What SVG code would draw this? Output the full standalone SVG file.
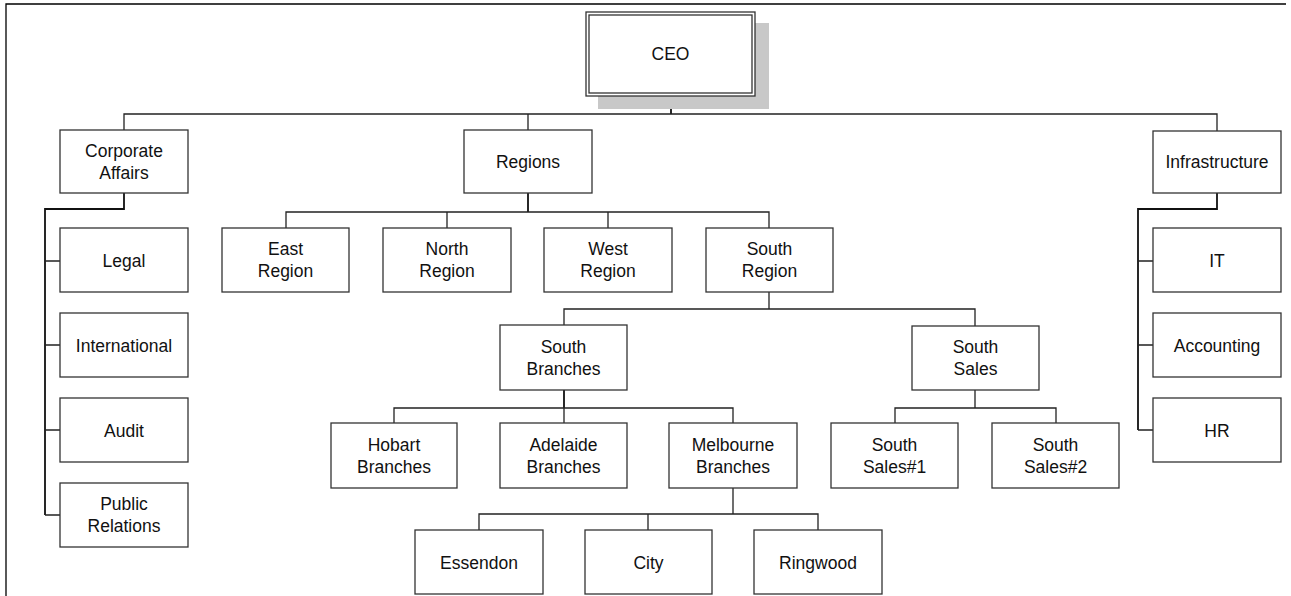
<svg xmlns="http://www.w3.org/2000/svg" width="1291" height="596" viewBox="0 0 1291 596">
<style>
.box{fill:#fff;stroke:#333;stroke-width:1.3}
.t{font-family:"Liberation Sans",Arial,sans-serif;font-size:17.5px;fill:#111;text-anchor:middle}
.c{fill:none;stroke:#222;stroke-width:1.3}
.ct{fill:none;stroke:#111;stroke-width:1.8}
.frame{fill:none;stroke:#000;stroke-width:1.3}
</style>
<rect width="1291" height="596" fill="#fff"/>
<path class="frame" d="M6,596 V4 H1286"/>
<g id="connectors">
<path class="ct" d="M671,96 V114"/>
<path class="c" d="M124,130 V114 H1217 V131 M528,114 V130"/>
<path class="ct" d="M124,193 V209 H45 V515"/>
<path class="c" d="M45,261 H60 M45,345 H60 M45,430 H60 M45,515 H60"/>
<path class="ct" d="M1217,193 V209 H1138 V430"/>
<path class="c" d="M1138,261 H1153 M1138,345 H1153 M1138,430 H1153"/>
<path class="ct" d="M528,193 V212"/>
<path class="c" d="M286,228 V212 H769 V228 M447,212 V228 M608,212 V228"/>
<path class="c" d="M769,292 V309 M564,325 V309 H975 V326"/>
<path class="ct" d="M564,390 V408"/>
<path class="c" d="M394,423 V408 H733 V423 M564,408 V423"/>
<path class="c" d="M975,390 V408 M895,423 V408 H1056 V423"/>
<path class="c" d="M733,488 V514 M479,530 V514 H818 V530 M648,514 V530"/>
</g>
<g id="ceo">
<rect x="598" y="23" width="171" height="86" fill="#c8c8c8"/>
<rect class="box" x="586" y="12" width="169" height="84" stroke-width="1.5"/>
<rect x="589" y="15" width="163" height="78" fill="none" stroke="#333" stroke-width="1.3"/>
<text class="t" x="670.5" y="60">CEO</text>
</g>
<g id="corporate-affairs"><rect class="box" x="60" y="130" width="128" height="63"/><text class="t" x="124" y="157">Corporate</text><text class="t" x="124" y="178.5">Affairs</text></g>
<g id="regions"><rect class="box" x="464" y="130" width="128" height="63"/><text class="t" x="528" y="167.5">Regions</text></g>
<g id="infrastructure"><rect class="box" x="1153" y="131" width="128" height="62"/><text class="t" x="1217" y="168">Infrastructure</text></g>
<g id="legal"><rect class="box" x="60" y="228" width="128" height="64"/><text class="t" x="124" y="266.5">Legal</text></g>
<g id="international"><rect class="box" x="60" y="313" width="128" height="64"/><text class="t" x="124" y="351.5">International</text></g>
<g id="audit"><rect class="box" x="60" y="398" width="128" height="64"/><text class="t" x="124" y="436.5">Audit</text></g>
<g id="public-relations"><rect class="box" x="60" y="483" width="128" height="64"/><text class="t" x="124" y="510">Public</text><text class="t" x="124" y="531.5">Relations</text></g>
<g id="it"><rect class="box" x="1153" y="228" width="128" height="64"/><text class="t" x="1217" y="266.5">IT</text></g>
<g id="accounting"><rect class="box" x="1153" y="313" width="128" height="64"/><text class="t" x="1217" y="351.5">Accounting</text></g>
<g id="hr"><rect class="box" x="1153" y="398" width="128" height="64"/><text class="t" x="1217" y="436.5">HR</text></g>
<g id="east-region"><rect class="box" x="222" y="228" width="127" height="64"/><text class="t" x="285.5" y="255">East</text><text class="t" x="285.5" y="276.5">Region</text></g>
<g id="north-region"><rect class="box" x="383" y="228" width="128" height="64"/><text class="t" x="447" y="255">North</text><text class="t" x="447" y="276.5">Region</text></g>
<g id="west-region"><rect class="box" x="544" y="228" width="128" height="64"/><text class="t" x="608" y="255">West</text><text class="t" x="608" y="276.5">Region</text></g>
<g id="south-region"><rect class="box" x="706" y="228" width="127" height="64"/><text class="t" x="769.5" y="255">South</text><text class="t" x="769.5" y="276.5">Region</text></g>
<g id="south-branches"><rect class="box" x="500" y="325" width="127" height="65"/><text class="t" x="563.5" y="353">South</text><text class="t" x="563.5" y="374.5">Branches</text></g>
<g id="south-sales"><rect class="box" x="912" y="326" width="127" height="64"/><text class="t" x="975.5" y="353">South</text><text class="t" x="975.5" y="374.5">Sales</text></g>
<g id="hobart-branches"><rect class="box" x="331" y="423" width="126" height="65"/><text class="t" x="394" y="451">Hobart</text><text class="t" x="394" y="472.5">Branches</text></g>
<g id="adelaide-branches"><rect class="box" x="500" y="423" width="127" height="65"/><text class="t" x="563.5" y="451">Adelaide</text><text class="t" x="563.5" y="472.5">Branches</text></g>
<g id="melbourne-branches"><rect class="box" x="669" y="423" width="128" height="65"/><text class="t" x="733" y="451">Melbourne</text><text class="t" x="733" y="472.5">Branches</text></g>
<g id="south-sales-1"><rect class="box" x="831" y="423" width="127" height="65"/><text class="t" x="894.5" y="451">South</text><text class="t" x="894.5" y="472.5">Sales#1</text></g>
<g id="south-sales-2"><rect class="box" x="992" y="423" width="127" height="65"/><text class="t" x="1055.5" y="451">South</text><text class="t" x="1055.5" y="472.5">Sales#2</text></g>
<g id="essendon"><rect class="box" x="415" y="530" width="128" height="64"/><text class="t" x="479" y="568.5">Essendon</text></g>
<g id="city"><rect class="box" x="585" y="530" width="127" height="64"/><text class="t" x="648.5" y="568.5">City</text></g>
<g id="ringwood"><rect class="box" x="754" y="530" width="128" height="64"/><text class="t" x="818" y="568.5">Ringwood</text></g>
</svg>
